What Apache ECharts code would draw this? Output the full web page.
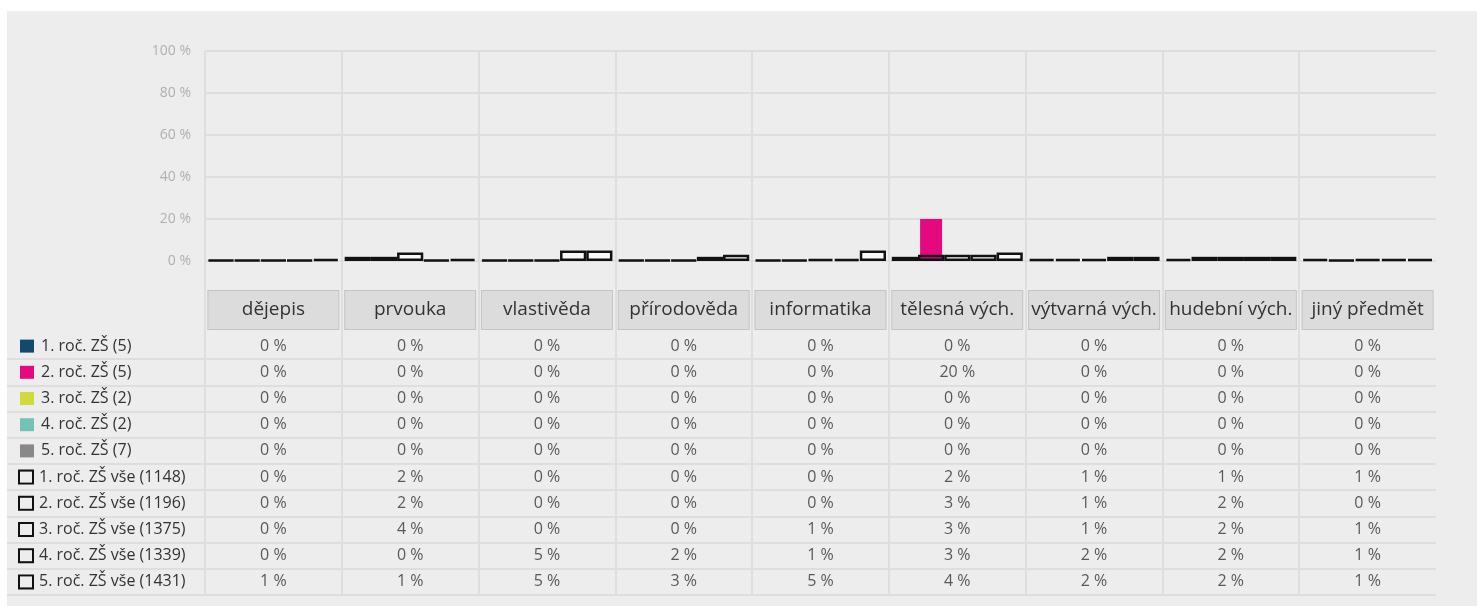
<!DOCTYPE html>
<html lang="cs">
<head>
<meta charset="UTF-8">
<title>Předměty podle ročníků</title>
<script src="https://cdn.jsdelivr.net/npm/echarts@6/dist/echarts.min.js"></script>
<style>
    html, body { margin: 0; padding: 0; background: #fff; }
    #panel { position: absolute; left: 7px; top: 11px; right: 0; bottom: 0; background: #ededed; }
    #chart { position: absolute; left: 0; top: 0; width: 1477px; height: 606px; }
</style>
</head>
<body>
<div id="panel"></div>
<div id="chart"></div>
<script>
    // categories
    var subjects = ['dějepis', 'prvouka', 'vlastivěda', 'přírodověda', 'informatika',
        'tělesná vých.', 'výtvarná vých.', 'hudební vých.', 'jiný předmět'];

    // series names
    var groups = ['1. roč. ZŠ (5)', '2. roč. ZŠ (5)', '3. roč. ZŠ (2)', '4. roč. ZŠ (2)', '5. roč. ZŠ (7)'];
    var groupsAll = ['1. roč. ZŠ vše (1148)', '2. roč. ZŠ vše (1196)', '3. roč. ZŠ vše (1375)',
        '4. roč. ZŠ vše (1339)', '5. roč. ZŠ vše (1431)'];

    // values in %
    var roc1 = [0, 0, 0, 0, 0, 0, 0, 0, 0];
    var roc2 = [0, 0, 0, 0, 0, 20, 0, 0, 0];
    var roc3 = [0, 0, 0, 0, 0, 0, 0, 0, 0];
    var roc4 = [0, 0, 0, 0, 0, 0, 0, 0, 0];
    var roc5 = [0, 0, 0, 0, 0, 0, 0, 0, 0];
    var roc1All = [0, 2, 0, 0, 0, 2, 1, 1, 1];
    var roc2All = [0, 2, 0, 0, 0, 3, 1, 2, 0];
    var roc3All = [0, 4, 0, 0, 1, 3, 1, 2, 1];
    var roc4All = [0, 0, 5, 2, 1, 3, 2, 2, 1];
    var roc5All = [1, 1, 5, 3, 5, 4, 2, 2, 1];

    var groupValues = [roc1, roc2, roc3, roc4, roc5];
    var allValues = [roc1All, roc2All, roc3All, roc4All, roc5All];

    var colors = ['#0e4b6f', '#e5097f', '#d2d93b', '#70c3b5', '#888888'];
    var lineColor = '#dedede';
    var font = 'Open Sans';

    var rowNames = groups.concat(groupsAll);
    var rowValues = groupValues.concat(allValues);

    // table cells
    var cells = [];
    rowValues.forEach(function (vals, r) {
        vals.forEach(function (v, c) {
            cells.push([c, r, v]);
        });
    });

    // legend icons in the row labels
    var rich = { t: { fontSize: 16, color: '#333', fontFamily: font, padding: [0, 0, 0, 7], verticalAlign: 'middle' } };
    for (var i = 0; i < rowNames.length; i++) {
        if (i < 5) {
            rich['i' + i] = { width: 14, height: 13, backgroundColor: colors[i], verticalAlign: 'middle' };
        } else {
            rich['i' + i] = { width: 12, height: 11, borderColor: '#111', borderWidth: 2, backgroundColor: '#ededed', verticalAlign: 'middle' };
        }
    }

    var series = [];
    allValues.forEach(function (vals, i) {
        series.push({
            name: groupsAll[i] + ' fill', type: 'bar', xAxisIndex: 1, yAxisIndex: 0, data: vals,
            barWidth: 26.2, barGap: '0%', itemStyle: { color: '#f8f8f8' }, z: 2, silent: true
        });
    });
    groupValues.forEach(function (vals, i) {
        series.push({
            name: groups[i], type: 'bar', xAxisIndex: 0, yAxisIndex: 0, data: vals,
            barWidth: 22, barGap: '19%', itemStyle: { color: colors[i] }, z: 3
        });
    });
    allValues.forEach(function (vals, i) {
        series.push({
            name: groupsAll[i], type: 'bar', xAxisIndex: 2, yAxisIndex: 0, data: vals,
            barWidth: 26.2, barGap: '0%', barMinHeight: 1,
            itemStyle: { color: 'rgba(0,0,0,0)', borderColor: '#111', borderWidth: 2.5 }, z: 4
        });
    });
    series.push({
        type: 'scatter', xAxisIndex: 3, yAxisIndex: 1, data: cells, symbolSize: 1,
        itemStyle: { color: 'rgba(0,0,0,0)' }, silent: true,
        label: {
            show: true, position: 'inside', fontSize: 16, color: '#333', fontFamily: font,
            formatter: function (p) { return p.value[2] + ' %'; }
        }
    });

    var hidden = 'rgba(0,0,0,0)';
    var option = {
        animation: false,
        textStyle: { fontFamily: font },
        grid: [
            { left: 205, top: 51, width: 1231, height: 294 },
            { left: 205, top: 333, width: 1231, height: 262 }
        ],
        xAxis: [
            {
                gridIndex: 0, type: 'category', data: subjects,
                axisLine: { show: false, onZero: false },
                axisTick: { show: false },
                axisLabel: {
                    interval: 0, margin: -54, fontSize: 19, color: '#333',
                    backgroundColor: '#dcdcdc', borderColor: '#c4c4c4', borderWidth: 1,
                    width: 130, height: 38, lineHeight: 38, align: 'center', verticalAlign: 'top'
                },
                splitLine: { show: true, showMaxLine: false, lineStyle: { color: lineColor, width: 2 } }
            },
            { gridIndex: 0, type: 'category', data: subjects, show: false },
            { gridIndex: 0, type: 'category', data: subjects, show: false },
            {
                gridIndex: 1, type: 'category', data: subjects,
                axisLine: { show: false }, axisTick: { show: false }, axisLabel: { show: false },
                splitLine: { show: true, showMaxLine: false, lineStyle: { color: lineColor, width: 2 } }
            }
        ],
        yAxis: [
            {
                gridIndex: 0, type: 'value', min: -40, max: 100, interval: 20,
                axisLine: { show: false }, axisTick: { show: false },
                axisLabel: {
                    color: '#b0b0b0', fontSize: 14, margin: 14,
                    formatter: function (v) { return v < 0 ? '' : v + ' %'; }
                },
                splitLine: {
                    lineStyle: { color: [hidden, hidden, lineColor, lineColor, lineColor, lineColor, lineColor, lineColor], width: 2 }
                }
            },
            {
                gridIndex: 1, type: 'category', inverse: true, data: rowNames,
                axisLine: { show: false },
                axisTick: {
                    show: true, length: 198,
                    interval: function (idx) { return idx > 0; },
                    lineStyle: { color: lineColor, width: 2 }
                },
                splitLine: {
                    show: true,
                    interval: function (idx) { return idx > 0; },
                    lineStyle: { color: lineColor, width: 2 }
                },
                axisLabel: {
                    interval: 0, align: 'left', margin: 185,
                    formatter: function (v, idx) { return '{i' + idx + '|}{t|' + v + '}'; },
                    rich: rich
                }
            }
        ],
        series: series
    };

    var myChart = echarts.init(document.getElementById('chart'));
    myChart.setOption(option);
</script>
</body>
</html>
